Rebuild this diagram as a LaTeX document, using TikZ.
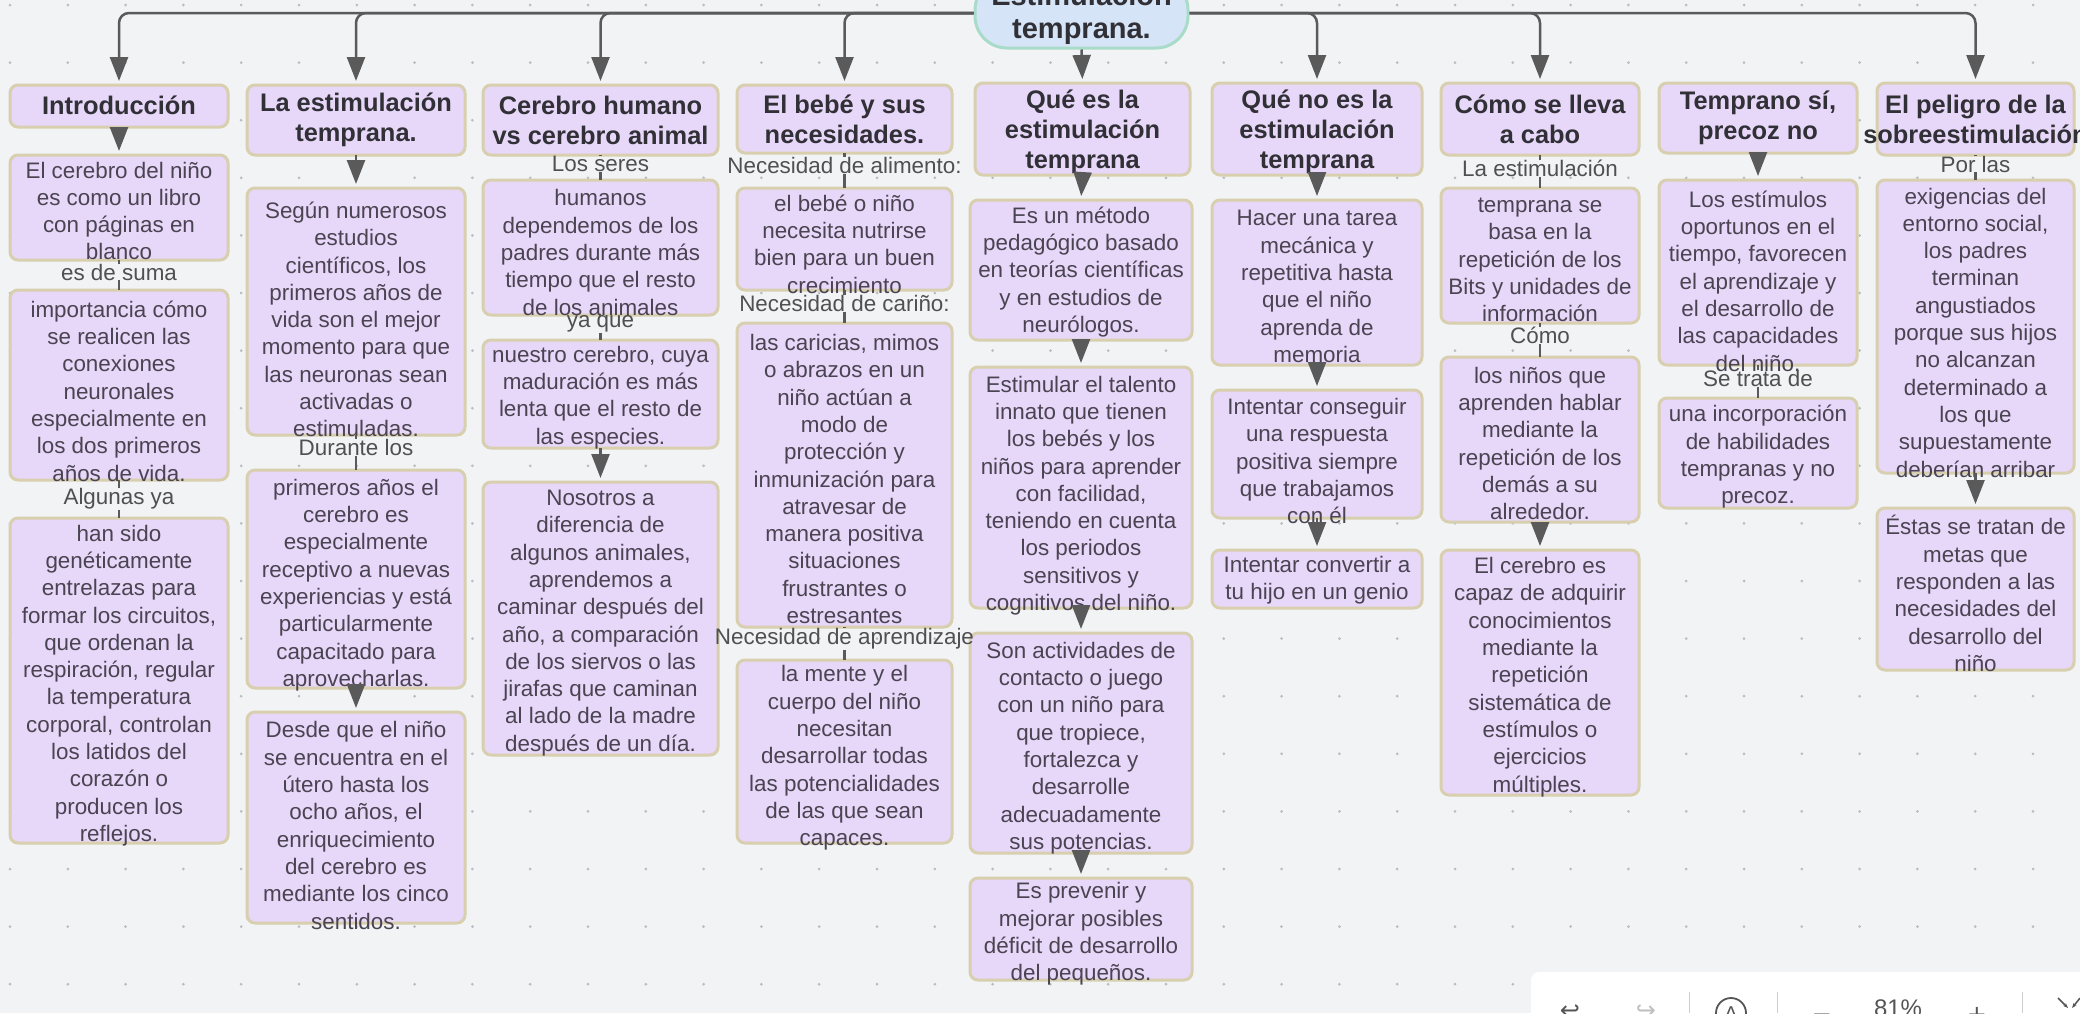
\documentclass[tikz,border=0pt]{standalone}
\usepackage{fontspec}
\setmainfont{Liberation Sans}
\newfontfamily\dejavu{DejaVu Sans}
\usetikzlibrary{arrows.meta}
\definecolor{bgc}{HTML}{F1F3F5}
\definecolor{dotc}{HTML}{B9BDC2}
\definecolor{boxf}{HTML}{E7D7F8}
\definecolor{boxd}{HTML}{D8CFAF}
\definecolor{txtc}{HTML}{4A4452}
\definecolor{hdc}{HTML}{303036}
\definecolor{lnc}{HTML}{5A5A5A}
\definecolor{rootf}{HTML}{D5E4F6}
\definecolor{rootd}{HTML}{A9DCC8}
\definecolor{lblc}{HTML}{505050}
\definecolor{tbc}{HTML}{555555}
\tikzset{
 bx/.style={draw=boxd, fill=boxf, line width=3pt, rounded corners=8pt, inner sep=0pt, outer sep=0pt},
 bt/.style={font=\fontsize{22.4}{27.3}\selectfont, text=txtc, align=center, inner sep=0pt},
 ht/.style={font=\fontsize{25.4}{30}\selectfont\bfseries, text=hdc, align=center, inner sep=0pt},
 lbl/.style={font=\fontsize{22.4}{27.3}\selectfont, text=lblc, inner sep=0pt},
 ln/.style={draw=lnc, line width=2.5pt},
 ar/.style={ln, -{Triangle[width=18pt,length=24pt]}, shorten >=4pt},
 tb/.style={font=\dejavu\fontsize{24}{24}\selectfont, text=tbc, anchor=base, inner sep=0pt},
}
% name, x1, y1, x2, y2, text shift down, text
\newcommand\mkbody[7]{%
  \node[bx, minimum width={(#4-#2)*1pt}, minimum height={(#5-#3)*1pt}] (#1) at ({(#2+#4)/2},{(#3+#5)/2}) {};
  \node[bt, yshift={-(#6)*1pt}] (#1t) at (#1.center) {#7};
}
\newcommand\mkhead[7]{%
  \node[bx, minimum width={(#4-#2)*1pt}, minimum height={(#5-#3)*1pt}] (#1) at ({(#2+#4)/2},{(#3+#5)/2}) {};
  \node[ht, yshift={-(#6)*1pt}] (#1t) at (#1.center) {#7};
}
% [pos] source, target, label name, label text
\newcommand\mklink[5][.36]{%
  \path (#2.south) -- node[lbl, pos=#1] (#4) {#5} (#3.north);
  \draw[ln] (#2.south) -- (#4.north);
  \draw[ln] (#4.south) -- (#3.north);
}
\begin{document}
\begin{tikzpicture}[x=1pt,y=-1pt]
\useasboundingbox (0,0) rectangle (2080,1013);
\clip (0,0) rectangle (2080,1013);
\fill[bgc] (0,0) rectangle (2080,1013);
\foreach \i in {0,...,36} {\foreach \j in {0,...,17} {\fill[dotc] ({10+57.8*\i},{5+57.6*\j}) circle (1.5pt);}}

% root
\node[draw=rootd, fill=rootf, line width=3pt, rounded corners=32pt, minimum width=213pt, minimum height=70pt, inner sep=0pt] (root) at (1081.5,13) {};
\node[font=\fontsize{29}{33}\selectfont\bfseries, text=hdc, align=center, inner sep=0pt, yshift=-1.5pt] (roott) at (root.center) {Estimulación\\temprana.};

% column 1
\mkhead{h1}{10}{85}{228}{127}{-1}{Introducción}
\mkbody{c1a}{10}{155}{228}{260}{3.5}{El cerebro del niño\\es como un libro\\con páginas en\\blanco}
\mkbody{c1b}{10}{290}{228}{480}{6}{importancia cómo\\se realicen las\\conexiones\\neuronales\\especialmente en\\los dos primeros\\años de vida.}
\mkbody{c1c}{10}{518}{228}{843}{5}{han sido\\genéticamente\\entrelazas para\\formar los circuitos,\\que ordenan la\\respiración, regular\\la temperatura\\corporal, controlan\\los latidos del\\corazón o\\producen los\\reflejos.}

% column 2
\mkhead{h2}{247}{85}{465}{155}{0}{La estimulación\\temprana.}
\mkbody{c2a}{247}{188}{465}{435}{8}{Según numerosos\\estudios\\científicos, los\\primeros años de\\vida son el mejor\\momento para que\\las neuronas sean\\activadas o\\estimuladas.}
\mkbody{c2b}{247}{470}{465}{688}{6}{primeros años el\\cerebro es\\especialmente\\receptivo a nuevas\\experiencias y está\\particularmente\\capacitado para\\aprovecharlas.}
\mkbody{c2c}{247}{712}{465}{923}{8}{Desde que el niño\\se encuentra en el\\útero hasta los\\ocho años, el\\enriquecimiento\\del cerebro es\\mediante los cinco\\sentidos.}

% column 3
\mkhead{h3}{483}{85}{718}{155}{0}{Cerebro humano\\vs cerebro animal}
\mkbody{c3a}{483}{180}{718}{315}{5}{humanos\\dependemos de los\\padres durante más\\tiempo que el resto\\de los animales}
\mkbody{c3b}{483}{340}{718}{448}{3.5}{nuestro cerebro, cuya\\maduración es más\\lenta que el resto de\\las especies.}
\mkbody{c3c}{483}{482}{718}{755}{4.5}{Nosotros a\\diferencia de\\algunos animales,\\aprendemos a\\caminar después del\\año, a comparación\\de los siervos o las\\jirafas que caminan\\al lado de la madre\\después de un día.}

% column 4
\mkhead{h4}{737}{85}{952}{153}{0}{El bebé y sus\\necesidades.}
\mkbody{c4a}{737}{188}{952}{290}{5}{el bebé o niño\\necesita nutrirse\\bien para un buen\\crecimiento}
\mkbody{c4b}{737}{323}{952}{627}{4}{las caricias, mimos\\o abrazos en un\\niño actúan a\\modo de\\protección y\\inmunización para\\atravesar de\\manera positiva\\situaciones\\frustrantes o\\estresantes}
\mkbody{c4c}{737}{660}{952}{843}{6.5}{la mente y el\\cuerpo del niño\\necesitan\\desarrollar todas\\las potencialidades\\de las que sean\\capaces.}

% column 5
\mkhead{h5}{975}{83}{1190}{175}{3}{Qué es la\\estimulación\\temprana}
\mkbody{c5a}{970}{200}{1192}{340}{2}{Es un método\\pedagógico basado\\en teorías científicas\\y en estudios de\\neurólogos.}
\mkbody{c5b}{970}{367}{1192}{608}{8}{Estimular el talento\\innato que tienen\\los bebés y los\\niños para aprender\\con facilidad,\\teniendo en cuenta\\los periodos\\sensitivos y\\cognitivos del niño.}
\mkbody{c5c}{970}{633}{1192}{853}{5}{Son actividades de\\contacto o juego\\con un niño para\\que tropiece,\\fortalezca y\\desarrolle\\adecuadamente\\sus potencias.}
\mkbody{c5d}{970}{878}{1192}{980}{5}{Es prevenir y\\mejorar posibles\\déficit de desarrollo\\del pequeños.}

% column 6
\mkhead{h6}{1212}{83}{1422}{175}{3}{Qué no es la\\estimulación\\temprana}
\mkbody{c6a}{1212}{200}{1422}{365}{4}{Hacer una tarea\\mecánica y\\repetitiva hasta\\que el niño\\aprenda de\\memoria}
\mkbody{c6b}{1212}{390}{1422}{518}{7}{Intentar conseguir\\una respuesta\\positiva siempre\\que trabajamos\\con él}
\mkbody{c6c}{1212}{550}{1422}{608}{1}{Intentar convertir a\\tu hijo en un genio}

% column 7
\mkhead{h7}{1441}{83}{1639}{155}{0}{Cómo se lleva\\a cabo}
\mkbody{c7a}{1441}{188}{1639}{323}{4.5}{temprana se\\basa en la\\repetición de los\\Bits y unidades de\\información}
\mkbody{c7b}{1441}{357}{1639}{522}{4}{los niños que\\aprenden hablar\\mediante la\\repetición de los\\demás a su\\alrededor.}
\mkbody{c7c}{1441}{550}{1639}{795}{4.5}{El cerebro es\\capaz de adquirir\\conocimientos\\mediante la\\repetición\\sistemática de\\estímulos o\\ejercicios\\múltiples.}

% column 8
\mkhead{h8}{1659}{83}{1857}{153}{0}{Temprano sí,\\precoz no}
\mkbody{c8a}{1659}{180}{1857}{365}{8.5}{Los estímulos\\oportunos en el\\tiempo, favorecen\\el aprendizaje y\\el desarrollo de\\las capacidades\\del niño.}
\mkbody{c8b}{1659}{398}{1857}{508}{4}{una incorporación\\de habilidades\\tempranas y no\\precoz.}

% column 9
\mkhead{h9}{1877}{83}{2074}{155}{0}{El peligro de la\\sobreestimulación}
\mkbody{c9a}{1877}{180}{2074}{473}{6}{exigencias del\\entorno social,\\los padres\\terminan\\angustiados\\porque sus hijos\\no alcanzan\\determinado a\\los que\\supuestamente\\deberían arribar}
\mkbody{c9b}{1877}{508}{2074}{670}{4.5}{Éstas se tratan de\\metas que\\responden a las\\necesidades del\\desarrollo del\\niño}

% top bar
\draw[ar, rounded corners=10pt] (root.west) -| (h1.north);
\draw[ar, rounded corners=10pt] (root.west) -| (h2.north);
\draw[ar, rounded corners=10pt] (root.west) -| (h3.north);
\draw[ar, rounded corners=10pt] (root.west) -| (h4.north);
\draw[ar, rounded corners=10pt] (root.east) -| (h6.north);
\draw[ar, rounded corners=10pt] (root.east) -| (h7.north);
\draw[ar, rounded corners=10pt] (root.east) -| (h9.north);
\draw[ar] (root.south) -- (h5.north);

% arrows inside columns
\draw[ar] (h1.south) -- (c1a.north);
\draw[ar] (h2.south) -- (c2a.north);
\draw[ar] (c2b.south) -- (c2c.north);
\draw[ar] (c3b.south) -- (c3c.north);
\draw[ar] (h5.south) -- (c5a.north);
\draw[ar] (c5a.south) -- (c5b.north);
\draw[ar] (c5b.south) -- (c5c.north);
\draw[ar] (c5c.south) -- (c5d.north);
\draw[ar] (h6.south) -- (c6a.north);
\draw[ar] (c6a.south) -- (c6b.north);
\draw[ar] (c6b.south) -- (c6c.north);
\draw[ar] (c7b.south) -- (c7c.north);
\draw[ar] (h8.south) -- (c8a.north);
\draw[ar] (c9a.south) -- (c9b.north);

% labelled links
\mklink[.4]{c1a}{c1b}{l1}{es de suma}
\mklink[.5]{c1b}{c1c}{l2}{Algunas ya}
\mklink{c2a}{c2b}{l3}{Durante los}
\mklink{h3}{c3a}{l4}{Los seres}
\mklink{c3a}{c3b}{l5}{ya que}
\mklink{h4}{c4a}{l6}{Necesidad de alimento:}
\mklink[.4]{c4a}{c4b}{l7}{Necesidad de cariño:}
\mklink{c4b}{c4c}{l8}{Necesidad de aprendizaje}
\mklink[.4]{h7}{c7a}{l9}{La estimulación}
\mklink{c7a}{c7b}{l10}{Cómo}
\mklink[.42]{c8a}{c8b}{l11}{Se trata de}
\mklink{h9}{c9a}{l12}{Por las}

% toolbar
\fill[white, rounded corners=8pt] (1531,972) rectangle (2110,1060);
\node[tb] (tundo) at (1570,1018) {↩};
\node[tb, text=black!25] (tredo) at (1646,1018) {↪};
\draw[black!20, line width=1pt] (1689,992) -- (1689,1013);
\node[draw=tbc, line width=1.8pt, circle, minimum size=30pt, inner sep=0pt] (tcirc) at (1731,1013) {};
\node[tb, font=\fontsize{20}{20}\selectfont] (ta) at (1731,1020) {A};
\draw[black!20, line width=1pt] (1777,992) -- (1777,1013);
\node[tb] (tminus) at (1822,1022) {−};
\node[tb, font=\fontsize{24}{24}\selectfont] (tpct) at (1898,1016) {81\%};
\node[tb] (tplus) at (1977,1022) {+};
\draw[black!20, line width=1pt] (2022,992) -- (2022,1013);
\coordinate (k1) at (2058,998);
\coordinate (k2) at (2068,1008);
\coordinate (k3) at (2080,998);
\coordinate (k4) at (2072,1008);
\draw[tbc, line width=1.5pt, -{Stealth[length=5pt]}] (k1) -- (k2);
\draw[tbc, line width=1.5pt, -{Stealth[length=5pt]}] (k3) -- (k4);
\end{tikzpicture}
\end{document}
